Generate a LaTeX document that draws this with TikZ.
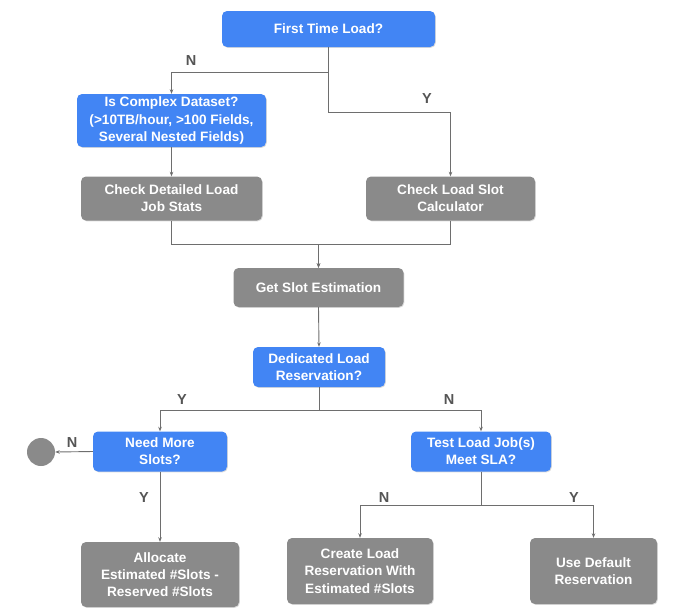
\documentclass[tikz,border=0pt]{standalone}
\usepackage{fontspec}
\setmainfont{Liberation Sans}
\usetikzlibrary{arrows.meta,shadows}
\definecolor{qblue}{HTML}{4285F4}
\definecolor{pgray}{HTML}{8A8A8A}
\definecolor{linegray}{HTML}{6E6E6E}
\definecolor{labelgray}{HTML}{555555}
\begin{document}
\begin{tikzpicture}[x=1pt,y=-1pt,
  basebox/.style={rounded corners=5pt, text=white, font=\bfseries\fontsize{13.6}{17.2}\selectfont,
    align=center, inner sep=0pt, anchor=center,
    drop shadow={shadow xshift=0.8pt, shadow yshift=-0.8pt, fill=black, opacity=0.15}},
  qbox/.style={basebox, fill=qblue},
  pbox/.style={basebox, fill=pgray},
  ln/.style={draw=linegray, line width=0.9pt},
  arr/.style={ln, -{Stealth[length=4.5pt,width=3.5pt]}},
  lbl/.style={font=\bfseries\fontsize{14.5}{15}\selectfont, text=labelgray, inner sep=0pt}
]
\useasboundingbox (0,0) rectangle (700,611);

\node[qbox, minimum width=213pt, minimum height=36pt] (first) at (328.5,29) {First Time Load?};
\node[qbox, minimum width=189pt, minimum height=53pt] (complex) at (171.5,120.5) {Is Complex Dataset?\\(>10TB/hour, >100 Fields,\\Several Nested Fields)};
\node[pbox, minimum width=181pt, minimum height=44pt] (detail) at (171.5,198.5) {Check Detailed Load\\Job Stats};
\node[pbox, minimum width=169pt, minimum height=44pt] (calc) at (450.5,198.5) {Check Load Slot\\Calculator};
\node[pbox, minimum width=170pt, minimum height=39pt] (est) at (318.5,287.5) {Get Slot Estimation};
\node[qbox, minimum width=132pt, minimum height=40pt] (ded) at (319,367) {Dedicated Load\\Reservation?};
\node[qbox, minimum width=134pt, minimum height=40pt] (more) at (160,451.5) {Need More\\Slots?};
\node[qbox, minimum width=140pt, minimum height=40pt] (sla) at (481,451.5) {Test Load Job(s)\\Meet SLA?};
\node[pbox, minimum width=158pt, minimum height=65pt] (alloc) at (160,574.5) {Allocate\\Estimated \#Slots -\\Reserved \#Slots};
\node[pbox, minimum width=146pt, minimum height=66pt] (create) at (360,571) {Create Load\\Reservation With\\Estimated \#Slots};
\node[pbox, minimum width=127pt, minimum height=66pt] (default) at (593.5,571) {Use Default\\Reservation};
\node[circle, fill=pgray, minimum size=28pt, inner sep=0pt] (stop) at (41,452) {};

\draw[arr] (first.south) -- ++(0,25) -| (complex.north);
\draw[arr] (first.south) -- ++(0,65) -| (calc.north);
\draw[arr] (complex.south) -- (detail.north);
\draw[arr] (detail.south) -- ++(0,23.5) -| (est.north);
\draw[arr] (calc.south) -- ++(0,23.5) -| (est.north);
\draw[arr] (est.south) -- (ded.north);
\draw[arr] (ded.south) -- ++(0,23) -| (more.north);
\draw[arr] (ded.south) -- ++(0,23) -| (sla.north);
\draw[arr] (more.west) -- (stop.east);
\draw[arr] (more.south) -- (alloc.north);
\draw[arr] (sla.south) -- ++(0,33.5) -| (create.north);
\draw[arr] (sla.south) -- ++(0,33.5) -| (default.north);

\node[lbl] (lN1) at (191,61) {N};
\node[lbl] (lY1) at (427,99) {Y};
\node[lbl] (lY2) at (182,400) {Y};
\node[lbl] (lN2) at (449,400) {N};
\node[lbl] (lN3) at (72,442) {N};
\node[lbl] (lY3) at (144,497) {Y};
\node[lbl] (lN4) at (384,497) {N};
\node[lbl] (lY4) at (574,497) {Y};
\end{tikzpicture}
\end{document}
